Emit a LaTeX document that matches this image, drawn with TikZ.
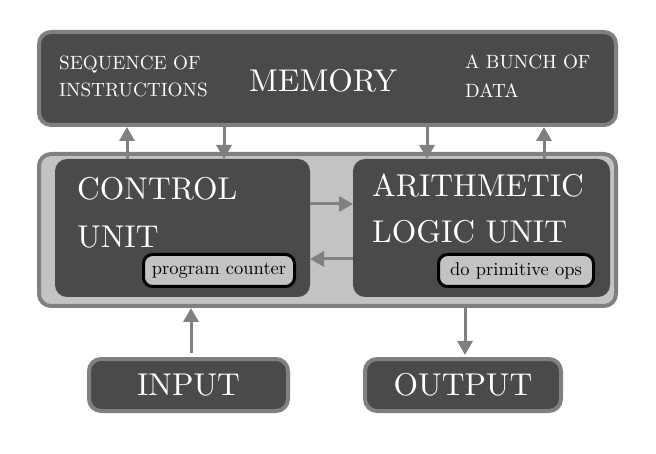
\documentclass[tikz,border=0pt]{standalone}
\usepackage{fontspec}
\setmainfont{lmroman10-regular.otf}
\usetikzlibrary{arrows.meta,calc}

\definecolor{boxdark}{HTML}{4A4A4A}
\definecolor{cpulight}{HTML}{C3C3C3}
\definecolor{linegray}{HTML}{808080}

\begin{document}
\begin{tikzpicture}[
  x=1pt,
  y=-1pt,
  unitbox/.style={
    draw=linegray,
    line width=4pt,
    fill=boxdark,
    rounded corners=12pt,
    anchor=north west,
    inner sep=0pt
  },
  innerbox/.style={
    fill=boxdark,
    rounded corners=12pt,
    anchor=north west,
    inner sep=0pt,
    outer sep=0pt
  },
  tagbox/.style={
    draw=black,
    line width=3pt,
    fill=cpulight,
    rounded corners=9pt,
    anchor=north west,
    inner sep=0pt,
    font=\fontsize{18.5}{22}\selectfont
  },
  bigtext/.style={
    text=white,
    anchor=base west,
    inner sep=0pt,
    font=\fontsize{31.5}{36}\selectfont
  },
  smalltext/.style={
    text=white,
    anchor=base west,
    inner sep=0pt,
    font=\fontsize{19.2}{23}\selectfont
  },
  flow/.style={
    draw=linegray,
    line width=3pt,
    -{Triangle[length=14pt,width=15pt]}
  }
]

  % memory
  \node[unitbox, minimum width=577pt, minimum height=93pt]
    (mem) at (37,30) {};
  \node[smalltext] (seqa) at (59,70) {SEQUENCE OF};
  \node[smalltext] (seqb) at (59,97) {INSTRUCTIONS};
  \node[bigtext] (memtxt) at (249,92) {MEMORY};
  \node[smalltext] (buncha) at (465,69) {A BUNCH OF};
  \node[smalltext] (bunchb) at (465,98) {DATA};

  % cpu
  \node[unitbox, fill=cpulight, minimum width=577pt, minimum height=152pt]
    (cpu) at (37,152) {};

  \node[innerbox, minimum width=255pt, minimum height=138pt]
    (cu) at (55,159) {};
  \node[bigtext] (cua) at (77,200) {CONTROL};
  \node[bigtext] (cub) at (77,248) {UNIT};
  \node[tagbox, minimum width=151pt, minimum height=32pt]
    (pc) at (142,253) {program counter};

  \node[innerbox, minimum width=257pt, minimum height=138pt]
    (alu) at (353,159) {};
  \node[bigtext] (alua) at (372,197) {ARITHMETIC};
  \node[bigtext] (alub) at (372,243) {LOGIC UNIT};
  \node[tagbox, minimum width=155pt, minimum height=32pt]
    (ops) at (437,253) {do primitive ops};

  % input / output
  \node[unitbox, minimum width=199pt, minimum height=52pt,
    text=white, font=\fontsize{31.5}{36}\selectfont]
    (input) at (87,357) {INPUT};
  \node[unitbox, minimum width=196pt, minimum height=52pt,
    text=white, font=\fontsize{31.5}{36}\selectfont]
    (output) at (363,357) {OUTPUT};

  % memory <-> cpu
  \draw[flow]
    ([xshift=72pt]cu.north west)
    -- ([xshift=72pt]cu.north west |- mem.south);
  \draw[flow]
    ([xshift=169pt]cu.north west |- mem.south)
    -- ([xshift=169pt]cu.north west);
  \draw[flow]
    ([xshift=74pt]alu.north west |- mem.south)
    -- ([xshift=74pt]alu.north west);
  \draw[flow]
    ([xshift=191pt]alu.north west)
    -- ([xshift=191pt]alu.north west |- mem.south);

  % cu <-> alu
  \draw[flow]
    ([yshift=-45pt]cu.north east)
    -- ([yshift=-45pt]cu.north east -| alu.west);
  \draw[flow]
    ([yshift=-100pt]alu.north west)
    -- ([yshift=-100pt]alu.north west -| cu.east);

  % input / output
  \draw[flow, shorten <=4pt]
    ([xshift=104pt]input.north west)
    -- ([xshift=104pt]input.north west |- cpu.south);
  \draw[flow, shorten >=2pt]
    ([xshift=102pt]output.north west |- cpu.south)
    -- ([xshift=102pt]output.north west);

  \path[use as bounding box]
    (0,0) rectangle (656,454);

\end{tikzpicture}
\end{document}
